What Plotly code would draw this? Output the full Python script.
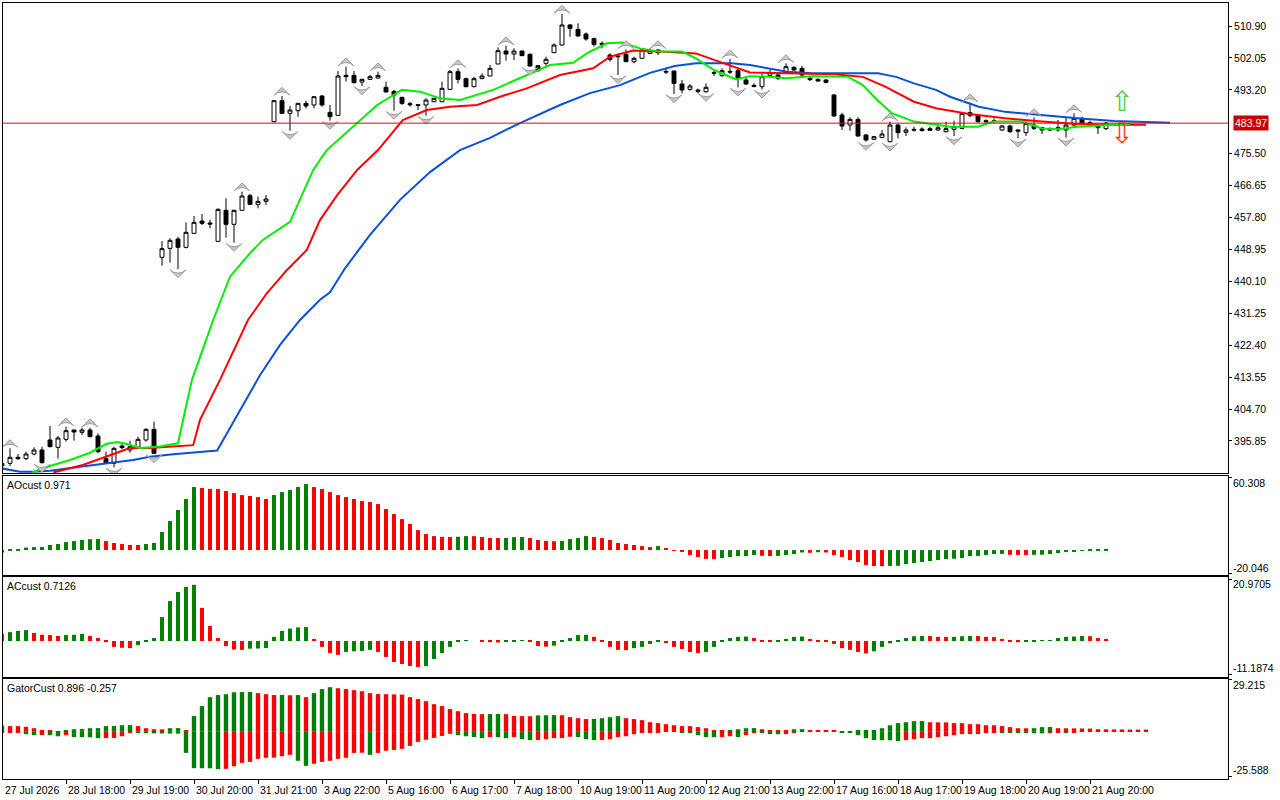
import plotly.graph_objects as go
from plotly.subplots import make_subplots

# price bars, index 0 = leftmost bar on screen
opens = [389.0, 389.66, 391.32, 390.95, 392.24, 393.35, 396.13, 394.09, 396.31, 398.90,
         398.25, 398.90, 397.24, 390.95, 389.66, 394.46, 393.35, 394.09, 396.13, 399.08,
         446.77, 449.26, 451.85, 449.54, 453.42, 456.84, 456.29, 451.20, 459.80, 455.92,
         459.80, 463.86, 461.46, 462.29, 484.38, 490.20, 486.69, 487.43, 489.46, 489.00,
         491.49, 486.96, 486.13, 497.22, 497.22, 495.37, 496.11, 496.48, 493.90, 492.79,
         491.12, 489.37, 489.09, 489.00, 489.92, 489.92, 493.34, 498.24, 496.30, 494.08,
         496.30, 497.04, 500.37, 503.97, 503.14, 503.97, 503.04, 499.90, 500.55, 503.51,
         505.63, 511.18, 509.97, 508.68, 507.39, 506.09, 502.86, 502.58, 503.04, 501.01,
         501.94, 503.32, 503.51, 498.33, 498.42, 494.82, 493.34, 493.16, 492.69, 497.78,
         497.13, 498.33, 498.52, 495.93, 494.45, 494.08, 497.22, 497.31, 497.96, 499.44,
         499.16, 496.39, 496.11, 495.93, 491.77, 486.22, 483.45, 485.02, 480.68, 479.48,
         480.03, 478.83, 483.45, 481.42, 482.25, 482.34, 482.44, 482.07, 481.60, 482.25,
         482.53, 486.87, 486.22, 484.65, 484.47, 482.07, 483.17, 482.07, 481.33, 483.45,
         482.71, 482.44, 482.71, 482.07, 483.45, 485.30, 484.10, 483.17, 482.44]
highs = [390.5, 393.82, 392.24, 392.89, 394.09, 394.28, 400.01, 397.24, 399.82, 398.95,
         399.54, 399.54, 397.97, 392.89, 394.28, 395.20, 395.94, 397.05, 399.36, 401.21,
         451.30, 452.04, 452.50, 456.47, 458.23, 458.78, 457.12, 460.35, 463.13, 460.00,
         464.97, 464.33, 463.59, 464.05, 490.30, 491.49, 488.72, 489.50, 490.20, 491.49,
         491.77, 489.00, 498.42, 499.63, 498.42, 496.30, 497.32, 498.24, 495.47, 493.16,
         491.31, 489.83, 489.28, 490.85, 491.00, 495.47, 498.70, 499.16, 496.58, 496.85,
         497.78, 500.09, 504.98, 505.45, 504.71, 504.06, 503.32, 500.09, 502.40, 506.09,
         514.23, 511.45, 511.64, 509.14, 507.67, 506.65, 503.32, 503.32, 504.43, 502.40,
         504.71, 504.71, 504.43, 499.16, 498.50, 495.93, 494.82, 493.53, 495.00, 498.89,
         499.16, 501.80, 499.16, 496.85, 495.00, 497.78, 498.89, 497.78, 500.55, 499.81,
         499.81, 496.85, 496.39, 496.11, 492.05, 486.87, 485.58, 485.58, 480.96, 480.40,
         482.07, 484.38, 483.92, 482.81, 483.00, 482.81, 483.00, 483.92, 484.38, 484.65,
         486.87, 489.64, 486.50, 485.02, 485.30, 483.45, 483.45, 482.25, 484.38, 485.58,
         483.00, 482.81, 484.84, 485.58, 486.69, 485.76, 484.65, 483.45, 484.28]
lows = [388.3, 388.92, 390.58, 390.58, 391.87, 389.60, 394.09, 390.95, 395.66, 395.94,
        397.51, 396.87, 392.43, 389.47, 388.55, 393.54, 392.61, 393.82, 395.66, 392.24,
        444.46, 445.29, 443.53, 449.26, 453.30, 455.73, 454.81, 451.10, 452.22, 450.83,
        459.70, 461.30, 460.35, 461.28, 484.20, 486.60, 481.88, 485.76, 488.07, 488.07,
        488.54, 484.65, 486.00, 495.47, 495.00, 494.27, 495.93, 496.30, 492.50, 487.43,
        489.00, 488.54, 487.61, 486.04, 489.80, 489.80, 493.16, 495.00, 493.90, 493.90,
        496.20, 497.00, 500.30, 501.29, 501.47, 502.60, 499.63, 498.24, 499.63, 503.40,
        505.45, 507.94, 508.00, 506.83, 505.17, 504.71, 501.01, 497.32, 500.90, 500.55,
        501.90, 503.14, 502.86, 497.59, 492.05, 492.23, 492.97, 492.23, 492.42, 497.04,
        496.85, 497.59, 493.90, 494.54, 493.90, 493.34, 496.85, 495.93, 497.78, 498.52,
        497.04, 495.65, 495.47, 495.00, 485.80, 482.07, 481.88, 480.22, 478.83, 479.29,
        479.76, 478.65, 479.76, 480.40, 481.60, 481.60, 481.79, 481.88, 481.42, 480.40,
        482.25, 485.58, 484.10, 483.45, 483.92, 481.88, 481.33, 479.76, 480.40, 482.07,
        480.96, 481.79, 481.60, 480.03, 483.00, 483.73, 483.17, 480.96, 482.07]
closes = [389.6, 391.32, 390.95, 392.24, 393.35, 389.84, 394.28, 396.68, 398.71, 398.34,
          398.90, 397.05, 392.89, 389.66, 393.82, 394.00, 394.28, 396.31, 399.08, 392.43,
          449.17, 451.48, 449.54, 453.70, 456.47, 456.19, 456.01, 460.07, 455.92, 459.80,
          463.77, 461.46, 462.29, 462.94, 490.20, 486.69, 487.61, 489.46, 488.72, 491.31,
          489.00, 485.76, 497.04, 496.85, 495.19, 496.11, 496.85, 497.22, 492.60, 491.77,
          489.46, 489.09, 488.91, 490.38, 490.85, 493.62, 498.24, 496.11, 494.08, 496.30,
          497.04, 499.16, 504.06, 503.14, 503.97, 502.68, 499.81, 498.52, 501.66, 505.63,
          511.18, 510.25, 508.13, 507.30, 505.82, 505.73, 501.66, 502.40, 501.01, 501.94,
          504.25, 504.06, 504.25, 498.15, 495.00, 493.16, 494.26, 492.79, 493.90, 497.96,
          498.52, 498.15, 496.39, 494.82, 494.17, 496.85, 497.96, 496.39, 499.63, 498.70,
          497.31, 496.02, 495.65, 495.28, 485.95, 483.17, 485.02, 480.40, 479.29, 480.22,
          480.96, 483.45, 481.33, 482.07, 482.07, 481.97, 481.97, 482.71, 482.44, 483.00,
          486.69, 486.13, 484.38, 484.38, 484.65, 483.17, 481.60, 481.79, 483.92, 482.53,
          482.07, 482.07, 482.07, 483.45, 485.30, 483.92, 483.45, 482.71, 483.97]
bid = 483.97

# alligator lines: (bar position, value)
jaw_x = [0.1, 2.25, 4, 6, 10, 13.5, 16.4, 18.5, 21.4, 26.9, 29.75, 32.25, 34.75, 37.25, 39.75,
         41, 42.9, 46, 49.75, 53.5, 57.25, 61, 64.75, 69.75, 73.5, 77.25, 81, 84.1, 86.75,
         91.25, 93.5, 98.1, 101.3, 109.5, 111.75, 114, 116.75, 118.5, 122.1, 125.4, 129.9,
         134.4, 139, 146]
jaw = [388.2, 387.3, 387.3, 387.6, 388.8, 389.8, 390.6, 391.5, 392.2, 393.2, 404.4, 414.1,
       422.5, 429.4, 435.0, 437.1, 443.8, 453.0, 462.7, 470.4, 476.5, 479.9, 484.0, 489.0,
       492.3, 494.5, 497.9, 499.8, 500.6, 500.6, 500.1, 498.2, 497.8, 497.8, 496.8, 495.0,
       493.2, 491.3, 488.5, 487.1, 486.2, 485.3, 484.6, 484.1]
teeth_x = [6.4, 10.1, 13.5, 16, 18.5, 21.4, 23.9, 24.75, 27.25, 30.75, 33.1, 35.6, 38.1,
           39.75, 41.9, 44.4, 47, 50.1, 53.1, 56, 59.4, 62.25, 65.6, 69.75, 73.9, 76, 78.9,
           82.25, 84.75, 86.75, 89, 93.5, 98, 104, 107.6, 110.4, 114, 116.75, 120.9, 125.4,
           130, 134.4, 139, 143]
teeth = [387.1, 389.2, 391.9, 393.9, 393.9, 394.3, 394.7, 401.7, 412.8, 429.4, 436.8, 443.2,
         448.8, 457.1, 464.0, 471.0, 476.5, 484.8, 487.6, 488.5, 489.0, 491.3, 493.6, 497.3,
         499.2, 502.4, 504.1, 503.8, 503.5, 503.3, 501.5, 498.0, 497.8, 497.5, 496.8, 494.1,
         489.9, 488.1, 486.5, 485.3, 484.4, 483.7, 483.5, 483.5]
lips_x = [3.75, 6, 8.5, 11, 13, 14.4, 15.6, 17.25, 19.75, 22, 23, 23.75, 26.4, 28.5, 31,
          32.6, 36, 37.6, 38.9, 40.6, 44.4, 46.9, 50, 52.25, 54.75, 57.25, 61.4, 65.6, 68.5,
          71.4, 73.1, 75.6, 77.6, 79.75, 82.25, 85, 86.75, 89, 91.75, 93.5, 96, 98, 101.25,
          105.75, 107.6, 109.4, 111.25, 114, 118.5, 122, 123.9, 127.5, 130, 132, 134.4, 139, 141]
lips = [387.1, 388.9, 390.6, 392.6, 395.0, 395.6, 395.0, 393.9, 394.3, 395.2, 405.4, 412.8,
        429.4, 441.4, 447.9, 451.6, 456.6, 464.5, 471.0, 476.5, 483.9, 489.0, 493.2, 492.7,
        490.9, 490.4, 493.2, 497.3, 500.1, 500.7, 503.3, 506.1, 506.3, 504.7, 503.8, 503.8,
        501.9, 498.7, 496.1, 497.0, 496.8, 496.4, 497.0, 496.8, 494.5, 490.4, 486.7, 484.4,
        483.0, 483.0, 484.4, 484.4, 482.5, 482.3, 483.0, 483.5, 483.7]

fractal_up = [1, 8, 11, 30, 35, 43, 47, 57, 63, 70, 78, 82, 91, 98, 111, 121, 129, 134]
fractal_down = [5, 14, 19, 22, 29, 36, 41, 45, 49, 53, 66, 77, 84, 88, 92, 95, 108, 111,
                119, 127, 133]

signal_x = [140]
signal_up = [489.3]
signal_down = [480.3]

ao = [-2.0, 0.3, 0.5, 2.0, 2.5, 2.6, 4.2, 5.0, 6.7, 7.5, 8.4, 9.1, 9.2, 7.5, 5.9, 5.0, 4.3, 4.2, 5.0, 5.9,
      15.1, 24.3, 33.5, 42.7, 52.7, 51.9, 51.2, 51.1, 49.4, 47.7, 46.0, 45.2, 44.3, 42.7, 46.0, 48.5, 50.2, 52.7, 55.2, 52.7,
      51.1, 48.5, 46.0, 44.3, 42.7, 41.0, 40.2, 38.5, 34.3, 30.1, 25.9, 21.8, 16.7, 13.4, 11.7, 11.0, 10.9, 11.1, 11.7, 11.6,
      10.9, 10.1, 10.0, 10.2, 10.8, 10.9, 10.1, 8.4, 7.6, 7.4, 7.6, 9.2, 10.0, 11.7, 10.9, 10.0, 8.4, 5.9, 5.0, 4.2,
      3.3, 2.5, 3.3, 1.7, -0.5, -1.5, -4.2, -5.9, -7.4, -7.6, -6.7, -5.9, -5.1, -5.0, -4.2, -4.8, -5.0, -4.9, -4.2, -3.3,
      -2.0, -2.3, -1.8, -2.0, -4.2, -5.9, -8.4, -10.0, -12.6, -13.4, -13.5, -13.3, -13.2, -11.7, -10.9, -10.0, -9.2, -8.4, -7.5, -7.3,
      -6.7, -5.0, -4.9, -4.2, -3.3, -3.2, -4.0, -4.1, -4.2, -4.0, -3.9, -3.3, -2.5, -1.5, -0.8, -0.3, 0.2, 0.5, 0.971]
ac = [2.4, 3.0, 3.4, 3.7, 2.7, 2.1, 2.0, 1.7, 2.0, 2.1, 2.4, 1.7, 1.0, -0.4, -2.0, -2.3, -2.4, -1.4, -0.2, 1.0,
      8.1, 13.5, 16.6, 18.3, 19.0, 11.2, 5.1, 1.0, -1.7, -2.9, -3.0, -2.6, -2.55, -2.4, 1.4, 3.4, 4.2, 4.6, 4.7, 0.7,
      -2.0, -4.1, -4.7, -3.7, -3.5, -3.4, -3.0, -3.7, -5.4, -7.1, -7.8, -8.5, -8.8, -8.5, -6.1, -4.1, -2.0, -0.2, 0.1, 0.0,
      -0.2, -0.4, -0.5, -0.3, -0.1, 0.2, -0.1, -1.7, -1.9, -1.6, -0.2, 1.0, 2.0, 2.1, 1.4, -0.3, -2.0, -3.0, -3.1, -2.4,
      -2.0, -1.0, -0.3, -0.7, -2.0, -2.7, -3.7, -4.1, -3.7, -2.0, -0.3, 1.0, 1.4, 1.5, 1.0, -0.1, -0.2, -0.1, 0.7, 1.4,
      1.5, 0.7, -0.1, -0.3, -1.0, -2.4, -3.0, -3.7, -4.2, -3.5, -2.0, -0.8, -0.1, 1.0, 1.6, 1.7, 1.65, 1.4, 1.35, 1.4,
      1.6, 1.7, 1.65, 1.4, 1.3, 0.7, -0.1, -0.4, -0.3, -0.1, 0.1, 0.3, 1.0, 1.4, 1.5, 1.7, 1.6, 1.0, 0.7126]
gator_up = [3.2, 2.9, 2.85, 2.5, 1.7, 0.6, 0.2, 0.1, 0.5, 1.1, 1.2, 1.7, 1.75, 2.9, 2.95, 3.4, 3.45, 2.9, 1.7, 1.1,
            1.05, 1.7, 1.75, 0.3, 8.6, 14.3, 19.4, 20.6, 21.1, 22.2, 22.3, 22.4, 21.7, 21.1, 20.6, 20.7, 20.5, 20.6, 19.4, 21.7,
            24.0, 25.1, 24.5, 24.0, 23.4, 22.8, 21.7, 21.2, 21.1, 21.0, 20.9, 19.4, 18.3, 17.1, 15.4, 14.3, 12.6, 11.4, 10.3, 9.8,
            9.7, 9.75, 9.8, 9.7, 8.7, 8.6, 8.5, 9.0, 9.1, 9.15, 9.1, 8.0, 7.4, 6.9, 7.0, 7.4, 8.0, 8.6, 7.4, 6.9,
            6.3, 5.1, 4.6, 4.0, 3.4, 2.9, 2.85, 2.3, 1.7, 0.6, 0.55, 0.6, 1.1, 1.7, 1.75, 1.1, 0.7, 0.6, 0.55, 1.1,
            1.15, 0.6, 0.55, 0.2, 0.15, 0.1, 0.1, 0.3, 0.4, 0.6, 1.7, 3.4, 4.6, 5.1, 5.7, 5.75, 5.1, 5.05, 5.0, 4.6,
            4.55, 4.0, 3.95, 3.4, 3.35, 2.9, 2.3, 1.7, 1.65, 1.7, 2.3, 2.35, 1.7, 1.65, 1.6, 1.55, 1.5, 1.1, 1.05, 1.0,
            0.95, 0.92, 0.9, 0.896]
gator_down = [-1.0, -1.0, -0.95, -1.7, -2.3, -2.25, -2.3, -2.9, -2.3, -3.4, -3.45, -3.5, -4.0, -3.95, -3.9, -2.9, -1.1, -1.15, -1.2, -1.25,
              -1.3, -1.35, -1.4, -12.4, -21.1, -21.15, -21.2, -21.7, -21.5, -20.0, -18.1, -17.5, -15.8, -15.2, -15.1, -14.3, -13.5, -16.9, -19.8, -18.6,
              -17.5, -16.9, -15.8, -15.2, -12.4, -12.3, -13.5, -12.4, -11.2, -10.7, -10.1, -8.4, -6.1, -4.9, -3.8, -2.7, -1.5, -2.3, -2.9, -3.4,
              -4.0, -3.4, -3.45, -4.0, -3.4, -4.6, -5.1, -5.05, -4.6, -4.0, -3.9, -3.2, -3.4, -4.6, -5.1, -5.05, -4.6, -3.4, -2.9, -1.7,
              -0.6, -0.55, -0.5, -0.45, -0.4, -0.6, -1.1, -2.3, -3.4, -3.45, -3.4, -2.9, -3.4, -2.3, -1.1, -1.15, -1.7, -1.75, -1.7, -0.6,
              -0.2, -0.2, -0.2, -0.3, -0.4, -0.5, -0.6, -2.3, -4.0, -5.1, -5.15, -5.2, -5.7, -5.1, -4.6, -4.0, -3.95, -3.4, -2.9, -2.3,
              -1.7, -1.65, -1.6, -1.1, -0.6, -0.65, -0.7, -1.1, -1.15, -1.2, -1.25, -0.6, -0.55, -0.6, -0.55, -0.3, -0.28, -0.27, -0.26, -0.26,
              -0.257, -0.257]

price_ticks = [510.90, 502.05, 493.20, 475.50, 466.65, 457.80, 448.95, 440.10, 431.25,
               422.40, 413.55, 404.70, 395.85]
ao_scale = [60.308, -20.046]
ac_scale = [20.9705, -11.1874]
gator_scale = [29.215, -25.588]

time_ticks = list(range(0, 137, 8))
time_labels = ["27 Jul 2026", "28 Jul 18:00", "29 Jul 19:00", "30 Jul 20:00", "31 Jul 21:00",
               "3 Aug 22:00", "5 Aug 16:00", "6 Aug 17:00", "7 Aug 18:00", "10 Aug 19:00",
               "11 Aug 20:00", "12 Aug 21:00", "13 Aug 22:00", "17 Aug 16:00", "18 Aug 17:00",
               "19 Aug 18:00", "20 Aug 19:00", "21 Aug 20:00"]

GREEN = "#008000"
RED = "#ff0000"
FONT = "Liberation Sans"
X_RANGE = [0.125, 153.25]


def rise_colors(vals, use_abs=False):
    v = [abs(a) for a in vals] if use_abs else vals
    cols = [GREEN if not use_abs else RED]
    for a, b in zip(v[:-1], v[1:]):
        cols.append(GREEN if b > a else RED)
    return cols


fig = make_subplots(rows=4, cols=1, shared_xaxes=True, vertical_spacing=0.004)

fig.add_trace(go.Candlestick(
    x=list(range(len(opens))), open=opens, high=highs, low=lows, close=closes,
    increasing=dict(line=dict(color="black", width=1), fillcolor="white"),
    decreasing=dict(line=dict(color="black", width=1), fillcolor="black"),
    whiskerwidth=0, hoverinfo="skip", showlegend=False), row=1, col=1)

for xs, ys, col in [(jaw_x, jaw, "#0a50d8"), (teeth_x, teeth, "#ff0000"), (lips_x, lips, "#00ee00")]:
    fig.add_trace(go.Scatter(x=xs, y=ys, mode="lines", line=dict(color=col, width=2),
                             hoverinfo="skip", showlegend=False), row=1, col=1)

# fractal arrowheads
fig.add_trace(go.Scatter(
    x=fractal_up, y=[highs[i] + 2.4 for i in fractal_up], mode="markers",
    marker=dict(symbol="arrow-wide", angle=0, size=11, color="#c8c8c8",
                line=dict(color="#9a9a9a", width=1)),
    hoverinfo="skip", showlegend=False), row=1, col=1)
fig.add_trace(go.Scatter(
    x=fractal_down, y=[lows[i] - 2.4 for i in fractal_down], mode="markers",
    marker=dict(symbol="arrow-wide", angle=180, size=11, color="#c8c8c8",
                line=dict(color="#9a9a9a", width=1)),
    hoverinfo="skip", showlegend=False), row=1, col=1)

fig.add_trace(go.Scatter(x=signal_x, y=signal_up, mode="text", text=["⇧"],
                         textfont=dict(family="DejaVu Sans", size=28, color="#44d044"),
                         hoverinfo="skip", showlegend=False), row=1, col=1)
fig.add_trace(go.Scatter(x=signal_x, y=signal_down, mode="text", text=["⇩"],
                         textfont=dict(family="DejaVu Sans", size=28, color="#ff3a10"),
                         hoverinfo="skip", showlegend=False), row=1, col=1)

fig.add_shape(type="line", xref="x domain", x0=0, x1=1, yref="y", y0=bid, y1=bid,
              line=dict(color="#ff0000", width=1))

fig.add_trace(go.Bar(x=list(range(len(ao))), y=ao, marker_color=rise_colors(ao), width=0.5,
                     marker_line_width=0, hoverinfo="skip", showlegend=False), row=2, col=1)
fig.add_trace(go.Bar(x=list(range(len(ac))), y=ac, marker_color=rise_colors(ac), width=0.5,
                     marker_line_width=0, hoverinfo="skip", showlegend=False), row=3, col=1)
fig.add_trace(go.Bar(x=list(range(len(gator_up))), y=gator_up, marker_color=rise_colors(gator_up),
                     width=0.55, marker_line_width=0, hoverinfo="skip", showlegend=False), row=4, col=1)
fig.add_trace(go.Bar(x=list(range(len(gator_down))), y=gator_down,
                     marker_color=rise_colors(gator_down, use_abs=True),
                     width=0.55, marker_line_width=0, hoverinfo="skip", showlegend=False), row=4, col=1)

# panel geometry (paper fractions of the 776 px tall plot area)
domains = [[0.3943, 1.0], [0.2629, 0.3905], [0.1314, 0.2603], [0.0, 0.1289]]
ranges = [[386.97, 517.28], [-20.88, 61.98], [-12.20, 21.65], [-27.30, 29.79]]
axis_font = dict(family=FONT, size=10.5, color="black")

for r in range(4):
    yname = "yaxis" if r == 0 else f"yaxis{r + 1}"
    xname = "xaxis" if r == 0 else f"xaxis{r + 1}"
    fig.layout[yname].update(domain=domains[r], range=ranges[r], side="right",
                             showline=True, mirror=True, linecolor="black", linewidth=1,
                             showgrid=False, zeroline=False, ticks="outside", ticklen=3,
                             tickcolor="black", tickfont=axis_font, fixedrange=True)
    fig.layout[xname].update(range=X_RANGE, showline=True, mirror=True,
                             linecolor="black", linewidth=1, showgrid=False, zeroline=False,
                             showticklabels=False, ticks="", fixedrange=True)

fig.layout.xaxis.rangeslider.visible = False
fig.layout.xaxis4.update(ticks="outside", tickvals=time_ticks, ticklen=4, tickcolor="black")
fig.layout.yaxis.update(tickvals=price_ticks, ticktext=[f"{p:.2f}" for p in price_ticks])
fig.layout.yaxis2.update(tickvals=ao_scale, showticklabels=False)
fig.layout.yaxis3.update(tickvals=ac_scale, showticklabels=False)
fig.layout.yaxis4.update(tickvals=gator_scale, showticklabels=False)

ann = []
for t, lab in zip(time_ticks, time_labels):
    # first label sits on the clipped first bar, keep it inside the range
    ann.append(dict(x=max(t, X_RANGE[0] + 0.01), xref="x4", y=0, yref="paper", yanchor="top",
                    xanchor="left", xshift=0, yshift=-3, text=lab, showarrow=False, font=axis_font))

for yref, scale, fmt in [("y2", ao_scale, "{:.3f}"), ("y3", ac_scale, "{:.4f}"), ("y4", gator_scale, "{:.3f}")]:
    ann.append(dict(x=1, xref="paper", xanchor="left", xshift=3, y=scale[0], yref=yref,
                    yanchor="top", yshift=3, text=fmt.format(scale[0]), showarrow=False, font=axis_font))
    ann.append(dict(x=1, xref="paper", xanchor="left", xshift=3, y=scale[1], yref=yref,
                    yanchor="bottom", yshift=-2, text=fmt.format(scale[1]), showarrow=False, font=axis_font))

titles = [("y2 domain", f"AOcust {ao[-1]:.3f}"),
          ("y3 domain", f"ACcust {ac[-1]:.4f}"),
          ("y4 domain", f"GatorCust {gator_up[-1]:.3f} {gator_down[-1]:.3f}")]
for yref, txt in titles:
    ann.append(dict(x=0, xref="paper", xanchor="left", xshift=2, y=1, yref=yref, yanchor="top",
                    yshift=-1, text=txt, showarrow=False, font=axis_font))

ann.append(dict(x=1, xref="paper", xanchor="left", xshift=5, y=bid, yref="y", text=f"{bid:.2f}",
                showarrow=False, bgcolor="#c80000", borderpad=1,
                font=dict(family=FONT, size=10.5, color="white")))

fig.update_layout(width=1280, height=800, margin=dict(l=3, r=52, t=3, b=21),
                  paper_bgcolor="white", plot_bgcolor="white", barmode="overlay",
                  annotations=ann, showlegend=False, hovermode=False)

fig.write_html("out.html", config={"displayModeBar": False},
               post_script="document.body.style.margin='0px';")
